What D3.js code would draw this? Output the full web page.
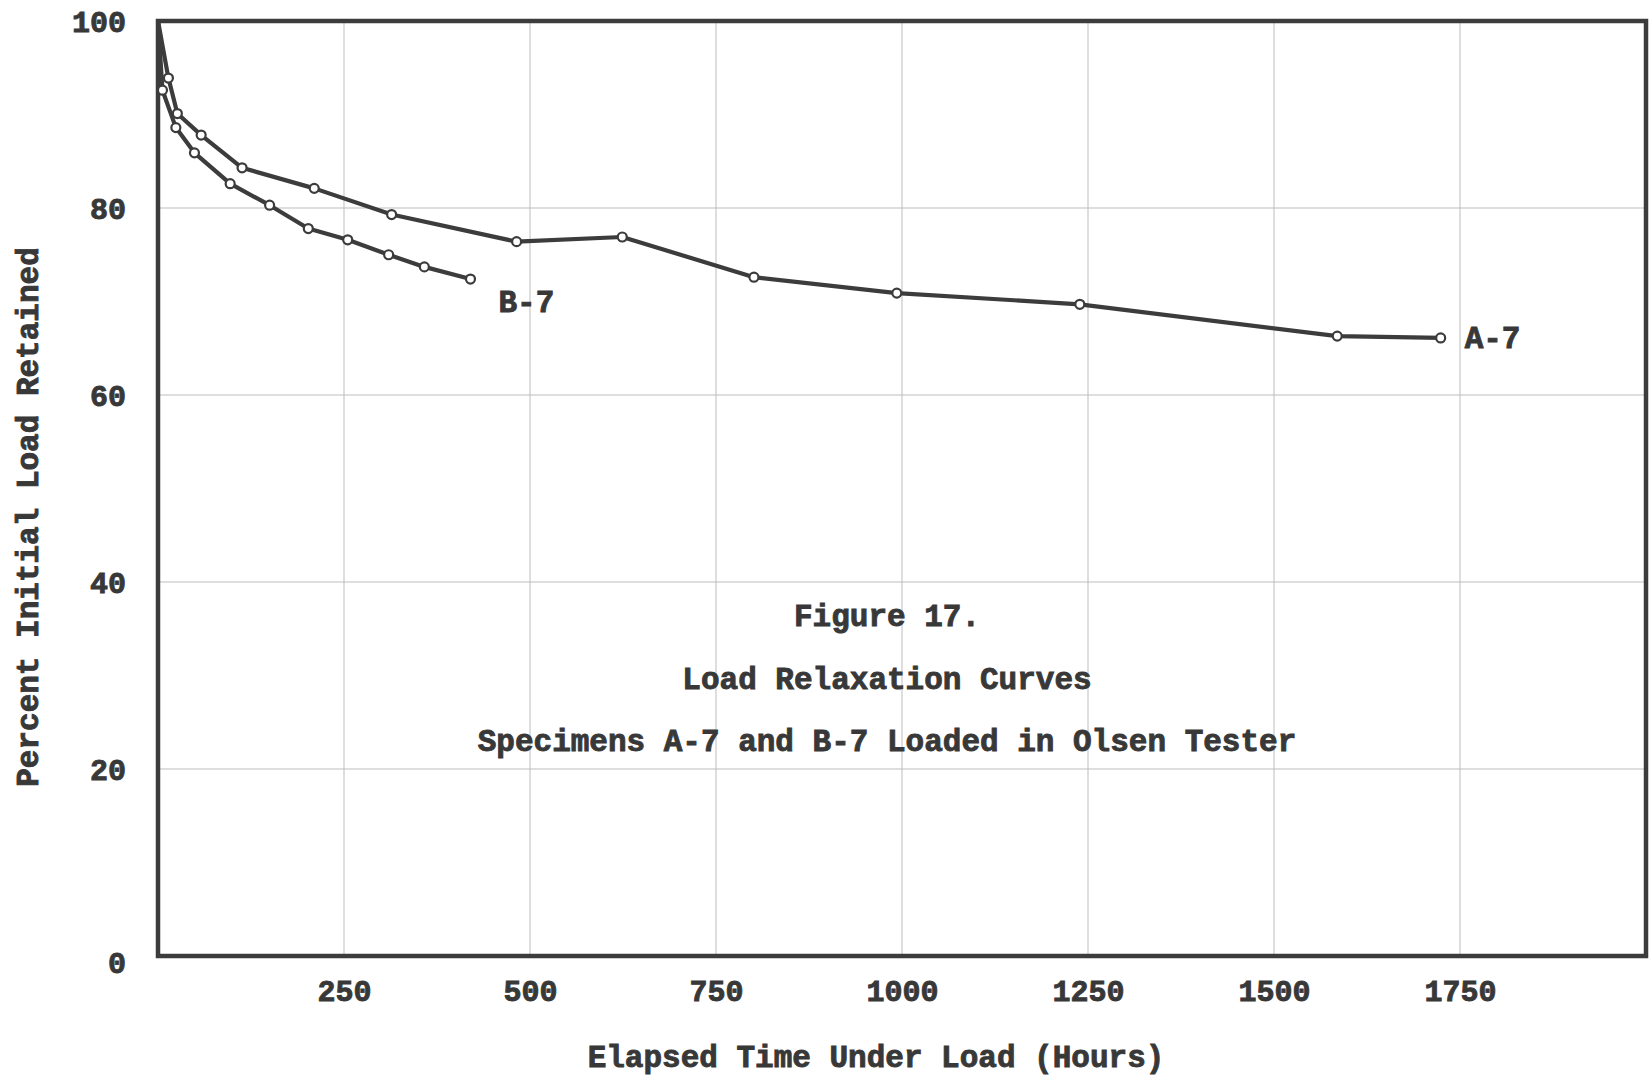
<!DOCTYPE html>
<html><head><meta charset="utf-8">
<script src="https://cdn.jsdelivr.net/npm/d3@7"></script>
<style>
html,body{margin:0;padding:0;background:#fff;}
svg{display:block;}
text{font-family:"Liberation Mono","DejaVu Sans Mono",monospace;font-weight:bold;fill:#383838;stroke:#383838;stroke-width:0.9px;}
</style></head>
<body>
<svg id="chart" width="1649" height="1078"></svg>
<script>
// Data
const seriesA7_hours = [0, 14, 26, 58, 113, 210, 314, 482, 624, 801, 993, 1239, 1585, 1724];
const seriesA7_pct   = [100, 93.9, 90.1, 87.8, 84.3, 82.1, 79.3, 76.4, 76.9, 72.6, 70.9, 69.7, 66.3, 66.1];
const seriesB7_hours = [0, 6, 24, 49, 97, 150, 202, 255, 310, 358, 420];
const seriesB7_pct   = [100, 92.6, 88.6, 85.9, 82.6, 80.3, 77.8, 76.6, 75.0, 73.7, 72.4];
const xTicks = [250, 500, 750, 1000, 1250, 1500, 1750];
const yTicks = [0, 20, 40, 60, 80, 100];
const yGrid = [20, 40, 60, 80];
const seriesLabels = ["A-7", "B-7"];
const captionLines = ["Figure 17.", "Load Relaxation Curves", "Specimens A-7 and B-7 Loaded in Olsen Tester"];
const xTitle = "Elapsed Time Under Load (Hours)";
const yTitle = "Percent Initial Load Retained";

const svg = d3.select("#chart");
const x = d3.scaleLinear().domain([0, 2000]).range([158, 1646]);
const y = d3.scaleLinear().domain([0, 100]).range([956, 21]);
const ink = "#3c3c3c";

// grid
svg.append("g").selectAll("line").data(xTicks).join("line")
  .attr("x1", d => x(d)).attr("x2", d => x(d))
  .attr("y1", y(100)).attr("y2", y(0))
  .attr("stroke", "#bdbdbd").attr("stroke-width", 1);
svg.append("g").selectAll("line").data(yGrid).join("line")
  .attr("x1", x(0)).attr("x2", x(2000))
  .attr("y1", d => y(d)).attr("y2", d => y(d))
  .attr("stroke", "#bdbdbd").attr("stroke-width", 1);

// frame
svg.append("rect")
  .attr("x", x(0)).attr("y", y(100))
  .attr("width", x(2000) - x(0)).attr("height", y(0) - y(100))
  .attr("fill", "none").attr("stroke", ink).attr("stroke-width", 4.5);

// axes labels via d3 axes
const xAxis = d3.axisBottom(x).tickValues(xTicks).tickSize(0).tickPadding(24).tickFormat(d3.format("d"));
const gx = svg.append("g").attr("transform", `translate(0,${y(0)})`).call(xAxis);
gx.select(".domain").remove();
gx.selectAll("text").attr("font-size", 30).attr("fill", ink).style("font-family", null);

const yAxis = d3.axisLeft(y).tickValues(yTicks).tickSize(0).tickPadding(32).tickFormat(d3.format("d"));
const gy = svg.append("g").attr("transform", `translate(${x(0)},0)`).call(yAxis);
gy.select(".domain").remove();
gy.selectAll("text").attr("font-size", 30).attr("fill", ink).style("font-family", null)
  .attr("dy", d => d === 0 ? "0.55em" : "0.35em");

// titles
svg.append("text").attr("x", 876).attr("y", 1059).attr("text-anchor", "middle")
  .attr("dominant-baseline", "middle").attr("font-size", 31).text(xTitle);
svg.append("text").attr("transform", "translate(30,517) rotate(-90)").attr("text-anchor", "middle")
  .attr("dominant-baseline", "middle").attr("font-size", 31).text(yTitle);

// caption
const capY = [618, 681, 743];
svg.append("g").selectAll("text").data(captionLines).join("text")
  .attr("x", 887).attr("y", (d, i) => capY[i]).attr("text-anchor", "middle")
  .attr("dominant-baseline", "middle").attr("font-size", 31).text(d => d);

// lines
const line = d3.line().x(d => x(d[0])).y(d => y(d[1]));
const series = [
  {name: seriesLabels[0], pts: d3.zip(seriesA7_hours, seriesA7_pct)},
  {name: seriesLabels[1], pts: d3.zip(seriesB7_hours, seriesB7_pct)}
];
series.forEach(s => {
  svg.append("path").datum(s.pts).attr("d", line)
    .attr("fill", "none").attr("stroke", ink).attr("stroke-width", 4.2)
    .attr("stroke-linejoin", "round");
  svg.append("g").selectAll("circle").data(s.pts.slice(1)).join("circle")
    .attr("cx", d => x(d[0])).attr("cy", d => y(d[1])).attr("r", 4.5)
    .attr("fill", "#fff").attr("stroke", ink).attr("stroke-width", 2.2);
});

// series labels next to last points
const lastA = series[0].pts[series[0].pts.length - 1];
const lastB = series[1].pts[series[1].pts.length - 1];
svg.append("text").attr("x", x(lastA[0]) + 24).attr("y", y(lastA[1]) + 2)
  .attr("dominant-baseline", "middle").attr("font-size", 31).text(seriesLabels[0]);
svg.append("text").attr("x", x(lastB[0]) + 28).attr("y", y(lastB[1]) + 25)
  .attr("dominant-baseline", "middle").attr("font-size", 31).text(seriesLabels[1]);
</script>
</body></html>
